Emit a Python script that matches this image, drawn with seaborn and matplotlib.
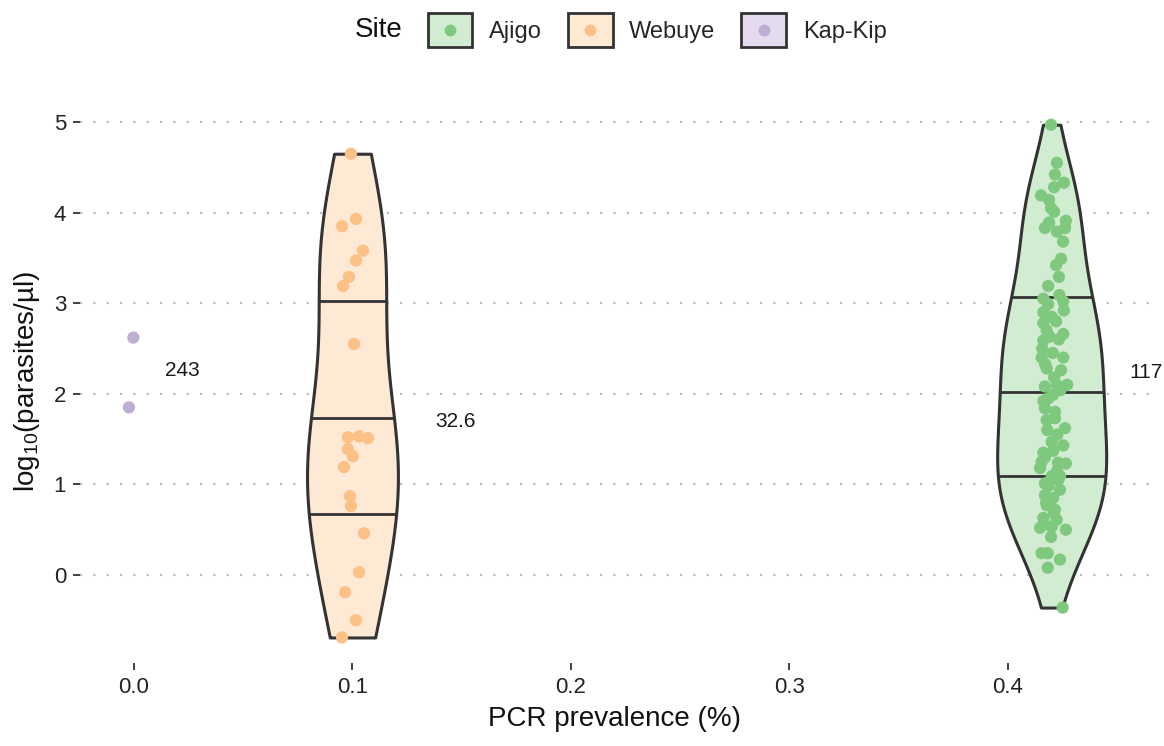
import numpy as np
import pandas as pd
import matplotlib
matplotlib.use("Agg")
import matplotlib.pyplot as plt
from matplotlib.patches import Rectangle
from matplotlib.lines import Line2D
from matplotlib.legend_handler import HandlerBase
import seaborn as sns

# ---- data ----
sites = ["Ajigo", "Webuye", "Kap-Kip"]
site_prevalence = {"Ajigo": 0.42, "Webuye": 0.10, "Kap-Kip": 0.0}

webuye_x = [0.0993, 0.0952, 0.1016, 0.1048, 0.1016, 0.0984, 0.0957, 0.1007, 0.0979, 0.1030, 0.1071,
            0.0979, 0.1002, 0.0961, 0.0989, 0.0993, 0.1053, 0.1030, 0.0966, 0.1016, 0.0952]
webuye_y = [4.65, 3.85, 3.93, 3.58, 3.47, 3.29, 3.19, 2.55, 1.52, 1.53, 1.51,
            1.39, 1.31, 1.19, 0.87, 0.76, 0.46, 0.03, -0.19, -0.50, -0.69]

ajigo_x = [0.4197, 0.4224, 0.4215, 0.4256, 0.4211, 0.4151, 0.4188, 0.4197, 0.4211, 0.4265, 0.4188,
           0.4169, 0.4261, 0.4224, 0.4252, 0.4243, 0.4220, 0.4233,
           0.4184, 0.4235, 0.4162, 0.4184, 0.4253, 0.4162, 0.4256, 0.4200, 0.4162, 0.4220, 0.4177,
           0.4253, 0.4162, 0.4233, 0.4157, 0.4154, 0.4253, 0.4243, 0.4177, 0.4211, 0.4271, 0.4169,
           0.4223, 0.4207, 0.4162, 0.4169, 0.4177, 0.4215, 0.4261, 0.4226,
           0.4253, 0.4162, 0.4207, 0.4154, 0.4265, 0.4229, 0.4147, 0.4200, 0.4238, 0.4169, 0.4238,
           0.4169, 0.4207, 0.4177, 0.4215, 0.4162, 0.4223, 0.4147, 0.4200, 0.4265, 0.4197, 0.4154,
           0.4182, 0.4238, 0.4182, 0.4250,
           0.4190, 0.4205, 0.4170, 0.4240, 0.4185, 0.4215, 0.4180, 0.4200, 0.4170,
           0.4225, 0.4185, 0.4210, 0.4165, 0.4230, 0.4175]
ajigo_y = [4.97, 4.55, 4.42, 4.33, 4.28, 4.19, 4.14, 4.05, 4.01, 3.91, 3.89,
           3.83, 3.83, 3.79, 3.68, 3.49, 3.42, 3.29,
           3.19, 3.09, 3.05, 2.99, 3.02, 2.90, 2.92, 2.85, 2.78, 2.80, 2.70,
           2.66, 2.59, 2.60, 2.50, 2.40, 2.40, 2.26, 2.28, 2.18, 2.10, 2.08,
           2.10, 1.99, 1.92, 1.84, 1.71, 1.73, 1.62, 1.55,
           1.43, 1.35, 1.37, 1.25, 1.23, 1.24, 1.18, 1.09, 1.09, 1.01, 0.94,
           0.88, 0.85, 0.77, 0.72, 0.63, 0.61, 0.52, 0.53, 0.50, 0.42, 0.24,
           0.24, 0.17, 0.08, -0.36,
           2.63, 2.45, 2.33, 2.04, 1.95, 1.80, 1.60, 1.47, 1.30,
           1.15, 0.98, 0.68, 0.57, 1.05, 0.80]

kapkip_x = [-0.0003, -0.0023]
kapkip_y = [2.62, 1.85]

label_text = ["243", "32.6", "117"]
label_x = [0.022, 0.147, 0.463]
label_y = [2.26, 1.69, 2.24]

x_ticks = [0.0, 0.1, 0.2, 0.3, 0.4]
y_ticks = [0, 1, 2, 3, 4, 5]

# ---- styling ----
point_col = {"Ajigo": "#7fc97f", "Webuye": "#fdc086", "Kap-Kip": "#beaed4"}
fill_col = {"Ajigo": "#d2ecd2", "Webuye": "#fee9d5", "Kap-Kip": "#e4dcee"}
violin_width = {"Ajigo": 0.0499, "Webuye": 0.0416}
edge = "#333333"


class SiteKey:
    def __init__(self, fill, dot):
        self.fill = fill
        self.dot = dot


class BoxDotHandler(HandlerBase):
    # ggplot-like key: filled box with the point in its middle
    def create_artists(self, legend, orig_handle, xdescent, ydescent, width, height, fontsize, trans):
        rect = Rectangle((-xdescent, -ydescent), width, height, facecolor=orig_handle.fill,
                         edgecolor=edge, linewidth=2.0, transform=trans)
        dot = Line2D([-xdescent + width / 2], [-ydescent + height / 2], marker="o", ls="",
                     markersize=8.5, markeredgewidth=0, color=orig_handle.dot, transform=trans)
        return [rect, dot]


sns.set_theme(style="white")
plt.rcParams["font.family"] = ["Liberation Sans", "DejaVu Sans"]
plt.rcParams["mathtext.fontset"] = "custom"
plt.rcParams["mathtext.rm"] = "Liberation Sans"

pts = pd.concat([
    pd.DataFrame({"Site": "Ajigo", "prev": ajigo_x, "logp": ajigo_y}),
    pd.DataFrame({"Site": "Webuye", "prev": webuye_x, "logp": webuye_y}),
    pd.DataFrame({"Site": "Kap-Kip", "prev": kapkip_x, "logp": kapkip_y}),
], ignore_index=True)

# violins sit on the site prevalence; Kap-Kip has too few points for one
vio = pts[pts["Site"] != "Kap-Kip"].copy()
vio["prev"] = vio["Site"].map(site_prevalence)

fig = plt.figure(figsize=(11.64, 7.46), dpi=100)
ax = fig.add_axes([80 / 1164, 1 - 663 / 746, (1150 - 80) / 1164, (663 - 100) / 746])

for site in ["Ajigo", "Webuye"]:
    sns.violinplot(data=vio[vio["Site"] == site], x="prev", y="logp", color=fill_col[site],
                   native_scale=True, orient="x", cut=0, inner=None, density_norm="width",
                   bw_method="silverman", bw_adjust=1.0, width=violin_width[site],
                   saturation=1, linecolor=edge, linewidth=2.2, ax=ax)

# quantile lines from the drawn violin outline (density quantiles, like ggplot)
for coll in list(ax.collections):
    v = coll.get_paths()[0].vertices
    xc = (v[:, 0].min() + v[:, 0].max()) / 2
    right = v[v[:, 0] > xc + 1e-9]
    order = np.argsort(right[:, 1])
    ry, idx = np.unique(right[order, 1], return_index=True)
    rx = right[order, 0][idx] - xc
    ys = np.linspace(ry.min(), ry.max(), 800)
    hw = np.interp(ys, ry, rx)
    cdf = np.concatenate([[0], np.cumsum((hw[1:] + hw[:-1]) / 2 * np.diff(ys))])
    cdf /= cdf[-1]
    for q in np.interp([0.25, 0.5, 0.75], cdf, ys):
        w = np.interp(q, ry, rx)
        ax.plot([xc - w, xc + w], [q, q], color=edge, lw=2.0, solid_capstyle="butt", zorder=2)

sns.scatterplot(data=pts, x="prev", y="logp", hue="Site", palette=point_col, s=78,
                linewidth=0, alpha=1, legend=False, zorder=3, ax=ax)

for t, x, y in zip(label_text, label_x, label_y):
    ax.text(x, y, t, ha="center", va="center", fontsize=15, color="#1a1a1a")

ax.set_xlim(-0.0247, 0.465)
ax.set_ylim(-0.972, 5.243)
ax.set_xticks(x_ticks)
ax.set_xticklabels([f"{v:.1f}" for v in x_ticks])
ax.set_yticks(y_ticks)
ax.yaxis.grid(True, color="#bdbdbd", linestyle=(0, (1, 5)), linewidth=1.6)
ax.xaxis.grid(False)
ax.set_axisbelow(True)
for s in ax.spines.values():
    s.set_visible(False)
ax.tick_params(axis="both", which="major", length=5, width=1.3, color=edge,
               labelsize=16, labelcolor="#222222", pad=5, bottom=True, left=True)
ax.set_xlabel("PCR prevalence (%)", fontsize=20, color="#111111", labelpad=6)
ax.set_ylabel(r"log$_{\mathrm{10}}$(parasites/µl)", fontsize=20, color="#111111", labelpad=8)

handles = [SiteKey(fill_col[s], point_col[s]) for s in sites]
ax.legend(handles, sites, handler_map={SiteKey: BoxDotHandler()}, ncols=3,
          loc="center", bbox_to_anchor=(657 / 1164, 1 - 30 / 746), bbox_transform=fig.transFigure,
          frameon=False, fontsize=17, handlelength=1.9, handleheight=1.8,
          handletextpad=0.7, columnspacing=1.1)
fig.text(379 / 1164, 1 - 30 / 746, "Site", ha="center", va="center", fontsize=20, color="#111111")

fig.savefig("out.png", dpi=100, facecolor="white")
